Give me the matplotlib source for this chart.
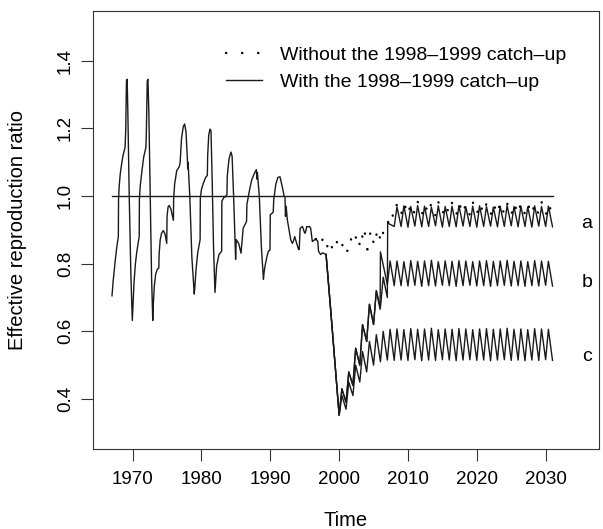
import matplotlib
matplotlib.use("Agg")
import matplotlib.pyplot as plt
from matplotlib.lines import Line2D

plt.rcParams["font.family"] = ["Liberation Sans", "DejaVu Sans"]

# shared history 1967-1998 (time, R)
HIST = [
    (1967.00, 0.705), (1967.15, 0.745), (1967.30, 0.775), (1967.50, 0.815), (1967.70, 0.850),
    (1967.92, 0.880), (1967.95, 0.990), (1968.05, 1.030), (1968.20, 1.066), (1968.40, 1.095),
    (1968.60, 1.120), (1968.90, 1.144), (1969.00, 1.200), (1969.10, 1.340), (1969.20, 1.345),
    (1969.30, 1.250), (1969.50, 1.000), (1969.75, 0.760), (1969.95, 0.632),
    (1970.05, 0.680), (1970.20, 0.745), (1970.40, 0.800), (1970.60, 0.835), (1970.95, 0.880),
    (1970.98, 0.990), (1971.10, 1.030), (1971.30, 1.066), (1971.60, 1.115), (1971.93, 1.144),
    (1972.00, 1.200), (1972.12, 1.340), (1972.22, 1.345), (1972.35, 1.250), (1972.55, 1.000),
    (1972.75, 0.760), (1972.92, 0.632),
    (1973.00, 0.680), (1973.15, 0.735), (1973.35, 0.770), (1973.60, 0.784), (1973.80, 0.787),
    (1973.85, 0.830), (1974.00, 0.870), (1974.20, 0.890), (1974.45, 0.898), (1974.70, 0.888),
    (1974.95, 0.860), (1975.00, 0.940), (1975.15, 0.968), (1975.30, 0.972), (1975.55, 0.962),
    (1975.80, 0.940), (1975.92, 0.928), (1975.95, 0.990), (1976.10, 1.035), (1976.40, 1.075),
    (1976.80, 1.088), (1976.90, 1.100), (1977.10, 1.170), (1977.35, 1.205), (1977.55, 1.213),
    (1977.75, 1.190), (1977.95, 1.110), (1978.00, 1.080), (1978.05, 1.100), (1978.30, 1.000),
    (1978.60, 0.820), (1978.95, 0.710),
    (1979.05, 0.735), (1979.20, 0.780), (1979.45, 0.832), (1979.75, 0.866), (1979.80, 0.871),
    (1979.83, 0.995), (1980.00, 1.020), (1980.26, 1.037), (1980.60, 1.055), (1980.85, 1.061),
    (1980.90, 1.120), (1981.05, 1.180), (1981.23, 1.198), (1981.38, 1.193), (1981.55, 1.050),
    (1981.75, 0.850), (1981.96, 0.715),
    (1982.05, 0.745), (1982.20, 0.793), (1982.54, 0.827), (1982.93, 0.837), (1982.96, 0.985),
    (1983.26, 0.996), (1983.50, 0.998), (1983.70, 1.005), (1983.75, 1.060), (1984.00, 1.110),
    (1984.28, 1.130), (1984.45, 1.118), (1984.70, 0.980), (1984.96, 0.813),
    (1985.05, 0.871), (1985.40, 0.860), (1985.75, 0.831), (1985.80, 0.845), (1986.06, 0.905),
    (1986.55, 0.925), (1986.60, 0.975), (1987.00, 1.020), (1987.30, 1.048), (1987.70, 1.068),
    (1987.97, 1.078), (1988.05, 1.050), (1988.12, 1.070), (1988.40, 1.000), (1988.70, 0.850),
    (1989.00, 0.754),
    (1989.10, 0.775), (1989.23, 0.793), (1989.50, 0.820), (1989.72, 0.837), (1989.95, 0.840),
    (1990.00, 0.945), (1990.42, 0.952), (1990.50, 0.990), (1990.80, 1.035), (1991.10, 1.055),
    (1991.40, 1.057), (1991.74, 1.027), (1992.00, 1.000), (1992.13, 0.998), (1992.20, 0.940),
    (1992.30, 0.970), (1992.47, 0.930), (1992.96, 0.871), (1993.20, 0.860), (1993.35, 0.866),
    (1993.55, 0.880), (1993.80, 0.862), (1994.10, 0.842), (1994.20, 0.842), (1994.33, 0.905),
    (1994.67, 0.910), (1995.00, 0.890), (1995.10, 0.892), (1995.30, 0.910), (1995.50, 0.909),
    (1995.70, 0.910), (1995.86, 0.905), (1996.10, 0.866), (1996.15, 0.866), (1996.60, 0.873),
    (1996.90, 0.866), (1997.00, 0.837), (1997.30, 0.827), (1997.60, 0.832), (1998.10, 0.827),
]

# with catch-up: drop then recovery, scenarios a / b / c up to 2008
A_RISE = [
    (1998.10, 0.827), (1998.76, 0.666), (2000.00, 0.352), (2000.40, 0.430), (2001.00, 0.390),
    (2001.40, 0.480), (2002.00, 0.440), (2002.40, 0.550), (2003.00, 0.500), (2003.40, 0.620),
    (2004.00, 0.570), (2004.40, 0.680), (2005.00, 0.620), (2005.40, 0.720), (2006.00, 0.670),
    (2006.40, 0.760), (2007.00, 0.700), (2007.05, 0.920), (2008.00, 0.910),
]
B_RISE = [
    (1998.10, 0.827), (1998.76, 0.666), (2000.00, 0.352), (2000.40, 0.430), (2001.00, 0.390),
    (2001.40, 0.480), (2002.00, 0.440), (2002.40, 0.550), (2003.00, 0.500), (2003.40, 0.620),
    (2004.00, 0.570), (2004.40, 0.680), (2005.00, 0.620), (2005.40, 0.720), (2005.95, 0.665),
    (2006.00, 0.835), (2007.00, 0.738), (2007.40, 0.808), (2008.00, 0.735),
]
C_RISE = [
    (1998.10, 0.827), (1998.76, 0.666), (2000.00, 0.352), (2000.40, 0.410), (2001.00, 0.370),
    (2001.40, 0.450), (2002.00, 0.410), (2002.40, 0.500), (2003.00, 0.450), (2003.40, 0.540),
    (2004.00, 0.480), (2004.40, 0.570), (2005.00, 0.500), (2005.40, 0.590), (2006.00, 0.510),
    (2006.40, 0.600), (2007.00, 0.515), (2007.40, 0.606), (2008.00, 0.514),
]
# without catch-up (dotted)
NOC_RISE = [
    (1996.6, 0.873), (1997.1, 0.850), (1997.6, 0.872), (1998.1, 0.840), (1998.6, 0.873),
    (1999.1, 0.838), (1999.6, 0.868), (2000.1, 0.837), (2000.6, 0.861), (2001.1, 0.830),
    (2001.6, 0.878), (2002.1, 0.852), (2002.6, 0.891), (2003.1, 0.846), (2003.6, 0.908),
    (2004.1, 0.842), (2004.6, 0.900), (2005.1, 0.852), (2005.6, 0.905), (2006.1, 0.861),
    (2006.6, 0.915), (2007.0, 0.910), (2007.4, 0.955), (2008.0, 0.935),
]

# steady annual oscillation 2008-2031: peak / trough of each year
STEADY_YEARS = list(range(2008, 2031))
A_PEAK = [0.968, 0.971, 0.969, 0.972, 0.970, 0.967, 0.971, 0.969, 0.970, 0.972, 0.968, 0.970,
          0.971, 0.969, 0.967, 0.970, 0.972, 0.969, 0.970, 0.968, 0.971, 0.969, 0.970]
A_TROUGH = [0.910, 0.908, 0.911, 0.909, 0.910, 0.912, 0.908, 0.910, 0.909, 0.911, 0.910, 0.908,
            0.910, 0.911, 0.909, 0.910, 0.912, 0.909, 0.910, 0.908, 0.911, 0.910, 0.909]
B_PEAK = [0.808, 0.806, 0.809, 0.807, 0.808, 0.810, 0.806, 0.808, 0.807, 0.809, 0.808, 0.806,
          0.808, 0.809, 0.807, 0.808, 0.810, 0.807, 0.808, 0.806, 0.809, 0.808, 0.807]
B_TROUGH = [0.735, 0.734, 0.736, 0.733, 0.735, 0.734, 0.736, 0.735, 0.733, 0.735, 0.736, 0.734,
            0.735, 0.733, 0.735, 0.736, 0.734, 0.735, 0.733, 0.735, 0.734, 0.736, 0.734]
C_PEAK = [0.607, 0.605, 0.608, 0.606, 0.607, 0.609, 0.605, 0.607, 0.606, 0.608, 0.607, 0.605,
          0.607, 0.608, 0.606, 0.607, 0.609, 0.606, 0.607, 0.605, 0.608, 0.607, 0.606]
C_TROUGH = [0.515, 0.514, 0.516, 0.513, 0.515, 0.514, 0.516, 0.515, 0.513, 0.515, 0.516, 0.514,
            0.515, 0.513, 0.515, 0.516, 0.514, 0.515, 0.513, 0.515, 0.514, 0.516, 0.514]
NOC_PEAK = [0.978, 0.982, 0.980, 0.984, 0.979, 0.981, 0.983, 0.978, 0.980, 0.982, 0.979, 0.983,
            0.981, 0.978, 0.980, 0.984, 0.979, 0.981, 0.982, 0.978, 0.980, 0.983, 0.979]
NOC_TROUGH = [0.944, 0.942, 0.946, 0.943, 0.945, 0.941, 0.944, 0.946, 0.942, 0.945, 0.943, 0.944,
              0.946, 0.942, 0.944, 0.945, 0.941, 0.944, 0.946, 0.943, 0.945, 0.942, 0.944]

SCEN_LABELS = [("a", 0.920), ("b", 0.745), ("c", 0.525)]
XTICKS = [1970, 1980, 1990, 2000, 2010, 2020, 2030]
YTICKS = [0.4, 0.6, 0.8, 1.0, 1.2, 1.4]


def series(rise, peaks=None, troughs=None):
    t = [p[0] for p in rise]
    r = [p[1] for p in rise]
    if peaks is not None:
        for y, pk, tr in zip(STEADY_YEARS, peaks, troughs):
            t += [y + 0.4, y + 1.0]
            r += [pk, tr]
    return t, r


LINE = "#1a1a1a"
LW = 1.0
DOTS = (0, (0.1, 6.7))
fig = plt.figure(figsize=(6.03, 5.29), dpi=100)
ax = fig.add_axes([0.1547, 0.1512, 0.8383, 0.8286])

ax.plot([1967, 2031], [1.0, 1.0], color=LINE, lw=LW)

ht, hr = series(HIST)
ax.plot(ht, hr, color=LINE, lw=LW)
for rise, pk, tr in [(C_RISE, C_PEAK, C_TROUGH), (B_RISE, B_PEAK, B_TROUGH), (A_RISE, A_PEAK, A_TROUGH)]:
    t, r = series(rise, pk, tr)
    ax.plot(t, r, color=LINE, lw=LW)

nt, nr = series(NOC_RISE, NOC_PEAK, NOC_TROUGH)
ax.plot(nt, nr, color="black", lw=1.7, linestyle=DOTS, dash_capstyle="round")

for lab, yv in SCEN_LABELS:
    ax.text(2036.0, yv, lab, ha="center", va="center", fontsize=14)

handles = [
    Line2D([], [], color="black", lw=1.7, linestyle=DOTS, dash_capstyle="round"),
    Line2D([], [], color=LINE, lw=LW),
]
ax.legend(handles, ["Without the 1998\u20131999 catch\u2013up", "With the 1998\u20131999 catch\u2013up"],
          loc="upper left", bbox_to_anchor=(0.2625, 0.918), frameon=False, fontsize=14,
          handlelength=1.85, handletextpad=0.95, labelspacing=0.48, borderpad=0, borderaxespad=0)

ax.set_xlim(1964.28, 2037.72)
ax.set_ylim(0.252, 1.548)
ax.set_xticks(XTICKS)
ax.set_xticklabels([str(x) for x in XTICKS])
ax.set_yticks(YTICKS)
ax.set_yticklabels(["%.1f" % y for y in YTICKS], rotation=90, va="center")
ax.tick_params(direction="out", length=8.5, width=0.8, color="#333333", labelsize=13.5)
ax.tick_params(axis="x", pad=7.5)
ax.tick_params(axis="y", pad=5.5)
for s in ax.spines.values():
    s.set_linewidth(0.8)
    s.set_color("#333333")

fig.text(346 / 603, 1 - 520 / 529, "Time", ha="center", va="center", fontsize=14.5)
fig.text(18 / 603, 1 - 230 / 529, "Effective reproduction ratio", ha="center", va="center",
         rotation=90, fontsize=14.5)

fig.savefig("out.png", dpi=100)
